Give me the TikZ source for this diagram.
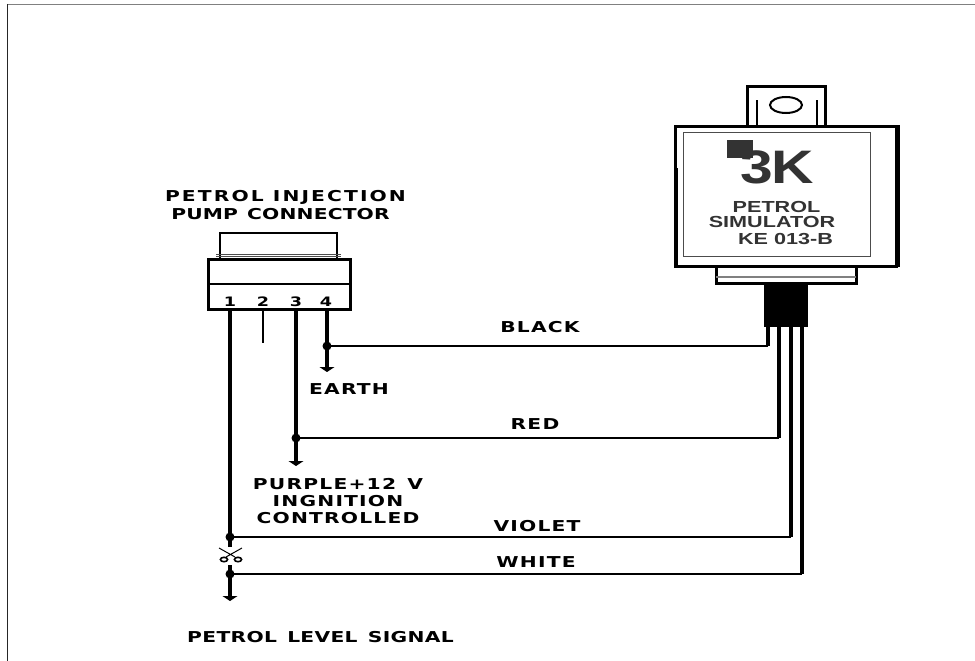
\documentclass[tikz,border=0pt]{standalone}
\usepackage{fontspec}
\setmainfont{DejaVu Sans}
\newfontfamily\capfont[FakeStretch=1.35,LetterSpace=8]{DejaVu Sans}
\newfontfamily\boxfont[FakeStretch=1.35]{Liberation Sans}
\newfontfamily\logofont[FakeStretch=1.25]{Liberation Sans}
\usetikzlibrary{arrows.meta,positioning,calc}

\tikzset{
  wire/.style={line width=2.2pt},
  pin/.style={line width=3.2pt},
  dotnode/.style={circle,fill=black,inner sep=0pt,minimum size=9pt},
  caption/.style={font=\capfont\bfseries\fontsize{15}{17}\selectfont,align=center,inner sep=0pt},
  digit/.style={font=\capfont\bfseries\fontsize{13}{13}\selectfont,inner sep=0pt},
  boxtext/.style={font=\boxfont\bfseries\fontsize{16}{16}\selectfont,text=black!80,inner sep=0pt},
  earth/.style={-{Triangle[width=15pt,length=5pt]}},
}

\begin{document}
\begin{tikzpicture}[x=1pt,y=-1pt]
        \useasboundingbox (0,0) rectangle (975,661);

        % Page frame
        \draw[black!50, line width=1.4pt] (7,4.5) -- (975,4.5);
        \draw[black!85, line width=1.2pt] (7.5,4) -- (7.5,661);

        % Simulator body
        \draw[line width=3pt] (747,125) |- (825,87) -- (825,125);
        \draw[line width=2pt] (757,125) -- (757,100) (817,125) -- (817,100);
        \draw[line width=2pt] (786,105) ellipse (16 and 8);
        \draw[line width=3pt] (675,126) rectangle (896,266);
        \draw[line width=5pt] (897,125) -- (897,267);
        \draw[line width=4pt] (676,168) -- (676,267);
        \draw[black!70, line width=0.9pt] (683,132) rectangle (870,256);
        \draw[line width=3pt] (716,266) |- (856,283) -- (856,266);
        \draw[black!50, line width=1.2pt] (716,277) -- (856,277);
        \fill[black] (764,283) rectangle (808,327);

        % Simulator labels
        \fill[black!80] (727,140) rectangle (753,158);
        \node[font=\logofont\bfseries\fontsize{47}{47}\selectfont, text=black!80, inner sep=0pt] (logo) at (777,167) {3\kern-2ptK};
        \node[boxtext] (simone) at (776.5,207) {PETROL};
        \node[boxtext] (simtwo) at (772,222) {SIMULATOR};
        \node[boxtext] (simthree) at (785.5,239) {KE 013-B};

        % Pump connector
        \draw[line width=2.6pt] (220,258) |- (337,233) -- (337,258);
        \draw[black!70, line width=0.7pt] (216,254) -- (341,254) (216,256.5) -- (341,256.5);
        \draw[line width=3pt] (208,259) rectangle (350,309);
        \draw[line width=2pt] (208,284) -- (350,284);
        \node[digit] (one) at (230,302) {1};
        \node[digit] (two) at (263,302) {2};
        \node[digit] (three) at (296,302) {3};
        \node[digit] (four) at (326,302) {4};
        \node[caption] (pumplabel) at (285.5,197) {\addfontfeatures{LetterSpace=14}PETROL INJECTION};
        \node[caption] (connlabel) at (280.5,214) {\addfontfeatures{LetterSpace=1}PUMP\hspace{2pt} CONNECTOR};

        % Junction dots
        \node[dotnode] (earthdot) at (327,346) {};
        \node[dotnode] (reddot) at (296,438) {};
        \node[dotnode] (violetdot) at (230,537) {};
        \node[dotnode] (whitedot) at (230,574) {};

        % Pins
        \coordinate (pinone) at (230,309);
        \coordinate (pintwo) at (263,309);
        \coordinate (pinthree) at (296,309);
        \coordinate (pinfour) at (327,309);
        \coordinate (pintwoend) at (263,343);
        \coordinate (earthend) at (327,372);
        \coordinate (purpleend) at (296,466);
        \coordinate (signalend) at (230,601);
        \draw[pin] (pinone) -- (violetdot.center);
        \draw[pin, line width=2pt] (pintwo) -- (pintwoend);
        \draw[pin] (pinthree) -- (reddot.center);
        \draw[pin] (pinfour) -- (earthdot.center);
        \draw[pin, earth] (earthdot.center) -- (earthend);
        \draw[pin, earth] (reddot.center) -- (purpleend);
        \draw[pin, earth] (whitedot.center) -- (signalend);

        % Cut mark
        \coordinate (cutone) at (230,547);
        \coordinate (cuttwo) at (230,565);
        \draw[pin] (violetdot.center) -- (cutone);
        \draw[pin] (cuttwo) -- (whitedot.center);
        \draw[line width=1pt] (219,548) -- (235,557) (242,548) -- (226,557);
        \draw[line width=1.6pt] (224,559.5) ellipse (3.6 and 2.2) (238,559.5) ellipse (3.6 and 2.2);

        % Wires to simulator
        \coordinate (blacktop) at (768,327);
        \coordinate (redtop) at (779,327);
        \coordinate (violettop) at (791,327);
        \coordinate (whitetop) at (802,327);
        \draw[wire] (earthdot.center) -- (earthdot -| blacktop);
        \draw[wire] (reddot.center) -- (reddot -| redtop);
        \draw[wire] (violetdot.center) -- (violetdot -| violettop);
        \draw[wire] (whitedot.center) -- (whitedot -| whitetop);
        \draw[pin] (blacktop) -- (earthdot -| blacktop);
        \draw[pin] (redtop) -- (reddot -| redtop);
        \draw[pin] (violettop) -- (violetdot -| violettop);
        \draw[pin] (whitetop) -- (whitedot -| whitetop);

        % Wire labels
        \node[caption] (blacklabel) at (540,327) {BLACK};
        \node[caption] (earthlabel) at (349,389) {EARTH};
        \node[caption] (redlabel) at (535,424) {RED};
        \node[caption] (purplelabel) at (338,501) {PURPLE+12\hspace{3pt} V\\INGNITION\\CONTROLLED};
        \node[caption] (violetlabel) at (537,526) {VIOLET};
        \node[caption] (whitelabel) at (536,562) {WHITE};
        \node[caption] (signallabel) at (320.5,637) {\addfontfeatures{LetterSpace=2}PETROL\hspace{3pt} LEVEL\hspace{3pt} SIGNAL};
      \end{tikzpicture}
\end{document}
